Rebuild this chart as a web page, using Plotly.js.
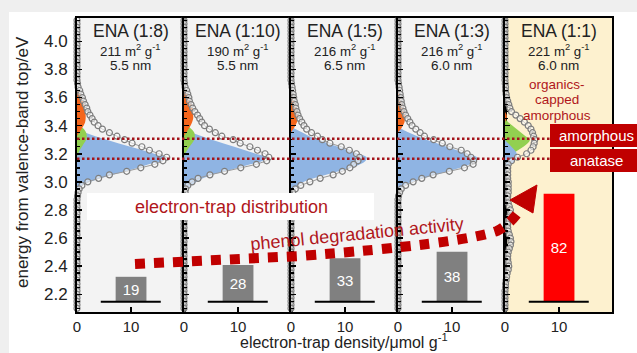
<!DOCTYPE html>
<html><head><meta charset="utf-8">
<script src="https://cdn.plot.ly/plotly-3.0.1.min.js"></script>
<style>html,body{margin:0;padding:0;background:#fff}#chart{width:637px;height:353px}</style>
</head><body><div id="chart"></div>
<script>
// ---------- data ----------
const samples = ['ENA (1:8)', 'ENA (1:10)', 'ENA (1:5)', 'ENA (1:3)', 'ENA (1:1)'];
const surfaceAreas = [211, 190, 216, 216, 221];
const crystalliteSizes = ['5.5', '5.5', '6.5', '6.0', '6.0'];
const phenolActivity = [19, 28, 33, 38, 82];
const xTickVals = [0, 10];
const xTickText = ['0', '10'];
const energyTickVals = [2.2, 2.4, 2.6, 2.8, 3.0, 3.2, 3.4, 3.6, 3.8, 4.0];
const energyTickText = ['2.2', '2.4', '2.6', '2.8', '3.0', '3.2', '3.4', '3.6', '3.8', '4.0'];
const amorphousLevel = 3.306;
const anataseLevel = 3.164;

const energy = [4.150,4.125,4.100,4.075,4.050,4.025,4.000,3.975,3.950,3.925,3.900,3.875,3.850,3.825,3.800,3.775,3.750,3.725,3.700,3.675,
  3.650,3.625,3.600,3.575,3.550,3.525,3.500,3.475,3.450,3.425,3.400,3.375,3.350,3.325,3.300,3.275,3.250,3.225,3.200,3.175,3.150,3.125,3.100,3.075,3.050,3.025,3.000,2.975,2.950,
  2.925,2.900,2.875,2.850,2.825,2.800,2.775,2.750,2.725,2.700,2.675,2.650,2.625,2.600,2.575,2.550,2.525,2.500,2.475,2.450,2.425,2.400,2.375,2.350,2.325,2.300,2.275,2.250,2.225,2.200,2.175,2.150,2.125,2.100];

const traps1 = [0,0,0,0,0,0,0,0,0,0, 0,0,0,0,0,0,0,0,0.1,0.2,
  0.5,0.7,1.0,1.2,1.5,1.8,2.0,2.4,2.8,3.2, 3.9,4.7,6.0,7.4,8.8,10.2,12.0,13.4,15.2,16.6, 15.9,14.4,11.8,9.2,6.0,4.0,2.0,0.9,0.4,
  0.2,0.1,0,0,0,0,0,0,0,0, 0,0,0,0,0,0,0,0,0,0, 0,0,0,0,0,0,0,0,0,0, 0,0,0,0];
const traps2 = [0,0,0,0,0,0,0,0,0,0, 0,0,0,0,0,0,0,0,0.1,0.2,
  0.5,0.7,0.9,1.0,1.3,1.6,2.0,2.5,2.9,3.3, 3.8,4.7,5.8,7.0,9.1,10.4,12.2,13.6,15.0,15.7, 15.3,13.4,10.5,7.5,4.8,2.6,1.5,0.7,0.3,
  0.2,0.1,0,0,0,0,0,0,0,0, 0,0,0,0,0,0,0,0,0,0, 0,0,0,0,0,0,0,0,0,0, 0,0,0,0];
const traps3 = [0,0,0,0,0,0,0,0,0,0, 0,0,0,0,0,0,0,0,0.1,0.2,
  0.3,0.4,0.5,0.6,0.8,0.9,1.1,1.3,1.6,2.0, 2.4,2.9,3.8,4.9,5.8,7.2,9.3,10.8,12.1,12.7, 12.4,11.6,10.9,9.5,7.8,5.4,3.5,1.8,0.8,
  0.3,0.1,0,0,0,0,0,0,0,0, 0,0,0,0,0,0,0,0,0,0, 0,0,0,0,0,0,0,0,0,0, 0,0,0,0];
const traps4 = [0,0,0,0,0,0,0,0,0,0, 0,0,0,0,0,0,0,0,0.1,0.2,
  0.3,0.4,0.5,0.6,0.7,0.9,1.1,1.4,1.8,2.2, 2.6,3.3,4.1,4.9,6.6,8.2,9.6,11.7,12.8,13.5, 14.0,13.9,12.3,9.5,6.5,4.4,2.8,1.4,0.6,
  0.3,0.1,0,0,0,0,0,0,0,0, 0,0,0,0,0,0,0,0,0,0, 0,0,0,0,0,0,0,0,0,0, 0,0,0,0];
const traps5 = [0,0,0,0,0,0,0,0,0,0, 0,0,0,0,0,0,0,0,0.05,0.1,
  0.1,0.2,0.3,0.5,0.7,0.9,1.2,2.0,2.8,3.6, 4.3,4.8,5.1,5.3,5.5,5.4,5.2,4.8,4.0,2.3, 1.2,0.6,0.5,0.5,0.5,0.5,0.6,0.6,0.6,
  0.6,0.5,0.5,0.6,0.8,1.0,1.0,0.8,0.6,0.5, 0.5,0.6,0.8,1.0,1.1,1.0,0.8,0.6,0.5,0.5, 0.6,0.7,0.6,0.4,0.3,0.2,0.1,0.1,0,0, 0,0,0,0];

// fitted components (energies 3.65 .. 2.95)
const fitEnergy = [3.650,3.625,3.600,3.575,3.550,3.525,3.500,3.475,3.450,3.425,3.400,3.375,3.350,3.325,3.300,3.275,3.250,3.225,3.200,3.175,3.150,3.125,3.100,3.075,3.050,3.025,3.000,2.975,2.950];
const fitBlue1 = [0,0,0,0,0,0,0,0,0,0, 0,0,1.6,3.4,5.5,7.6,9.9,12.2,14.3,16.6, 15.8,13.3,11.3,9.0,6.7,4.4,2.5,1.1,0.4];
const fitBlue2 = [0,0,0,0,0,0,0,0,0,0, 0,0,1.5,3.3,5.2,7.2,9.3,11.3,13.3,15.2, 14.6,12.3,10.0,7.7,5.3,3.5,2.3,1.3,0.5];
const fitBlue3 = [0,0,0,0,0,0,0,0,0,0, 0,0.9,2.2,3.4,5.2,6.8,8.7,10.5,12.4,14.0, 13.8,12.8,11.0,8.8,6.5,4.2,2.4,1.3,0.5];
const fitBlue4 = [0,0,0,0,0,0,0,0,0,0, 0,0.8,2.1,3.6,5.3,7.2,9.0,10.9,12.8,14.6, 14.5,13.3,11.5,9.3,7.1,4.8,2.6,1.2,0.5];
const fitBlue5 = [0,0,0,0,0,0,0,0,0,0, 0,0,0,0,0,0.6,1.2,1.8,2.2,2.2, 1.8,1.2,0.6,0.2,0,0,0,0,0];
const fitGreen1 = [0,0,0,0,0,0,0,0,0,0, 0.6,1.3,1.7,1.8,1.7,1.3,0.9,0.5,0.2,0, 0,0,0,0,0,0,0,0,0];
const fitGreen2 = [0,0,0,0,0,0,0,0,0,0, 0.7,1.4,1.9,2.0,1.9,1.5,1.0,0.6,0.2,0, 0,0,0,0,0,0,0,0,0];
const fitGreen3 = [0,0,0,0,0,0,0,0,0,0, 0,0,0,0,0,0,0,0,0,0, 0,0,0,0,0,0,0,0,0];
const fitGreen4 = [0,0,0,0,0,0,0,0,0,0, 0,0,0,0,0,0,0,0,0,0, 0,0,0,0,0,0,0,0,0];
const fitGreen5 = [0,0,0,0,0,0,0,0,0,0.6, 1.4,2.2,3.0,3.8,4.6,4.2,3.4,2.4,1.4,0.5, 0,0,0,0,0,0,0,0,0];
const fitOrange1 = [0.3,0.6,0.9,1.1,1.3,1.4,1.5,1.6,1.6,1.5, 1.2,0.8,0.4,0,0,0,0,0,0,0, 0,0,0,0,0,0,0,0,0];
const fitOrange2 = [0.2,0.5,0.9,1.2,1.4,1.6,1.7,1.7,1.7,1.5, 1.2,0.8,0.4,0,0,0,0,0,0,0, 0,0,0,0,0,0,0,0,0];
const fitOrange3 = [0,0,0.3,0.6,0.9,1.1,1.2,1.3,1.3,1.1, 0.8,0.4,0,0,0,0,0,0,0,0, 0,0,0,0,0,0,0,0,0];
const fitOrange4 = [0,0.2,0.4,0.6,0.9,1.1,1.2,1.3,1.3,1.2, 0.9,0.5,0,0,0,0,0,0,0,0, 0,0,0,0,0,0,0,0,0];
const fitOrange5 = [0,0,0,0,0,0,0,0.3,0.3,0, 0,0,0,0,0,0,0,0,0,0, 0,0,0,0,0,0,0,0,0];

const trapSeries = [traps1, traps2, traps3, traps4, traps5];
const blueSeries = [fitBlue1, fitBlue2, fitBlue3, fitBlue4, fitBlue5];
const greenSeries = [fitGreen1, fitGreen2, fitGreen3, fitGreen4, fitGreen5];
const orangeSeries = [fitOrange1, fitOrange2, fitOrange3, fitOrange4, fitOrange5];

// ---------- styling ----------
const FONT = 'Liberation Sans, Arial, sans-serif';
const RED = '#c00000';
const TXTRED = '#b0161b';
const C_BLUE = '#8fb4e3', C_GREEN = '#92d050', C_ORANGE = '#f4661c';
const ML = 77, MT = 18, PW = 535, PH = 294;
const px = x => (x - ML) / PW;
const py = y => (MT + PH - y) / PH;

const traces = [];
const layout = {
  width: 637, height: 353,
  margin: {l: ML, r: 637 - ML - PW, t: MT, b: 353 - MT - PH, pad: 0},
  paper_bgcolor: '#ffffff', plot_bgcolor: 'rgba(0,0,0,0)',
  showlegend: false,
  font: {family: FONT, color: '#222', size: 15},
  shapes: [], annotations: []
};

for (let i = 0; i < 5; i++) {
  const s = i === 0 ? '' : String(i + 1);
  const xa = 'x' + s, ya = 'y' + s, yb = 'y' + (6 + i);
  layout['xaxis' + s] = {
    domain: [i / 5, (i + 1) / 5], range: [0, 19.8], anchor: ya,
    tickmode: 'array', tickvals: xTickVals, ticktext: xTickText,
    ticks: 'inside', ticklen: 5, tickwidth: 1.5, tickcolor: '#000',
    showline: true, linecolor: '#000', linewidth: 2, mirror: true,
    showgrid: false, zeroline: false, tickfont: {size: 15, color: '#222'}, fixedrange: true
  };
  layout['yaxis' + s] = {
    domain: [0, 1], range: [2.074, 4.166], anchor: xa,
    tickmode: 'array', tickvals: energyTickVals, ticktext: energyTickText,
    showticklabels: i === 0, ticklabelstandoff: 4,
    ticks: 'inside', ticklen: 5, tickwidth: 1.5, tickcolor: '#000',
    minor: {tickmode: 'linear', tick0: 2.2, dtick: 0.05, ticks: 'inside', ticklen: 3, tickcolor: '#000'},
    showline: true, linecolor: '#000', linewidth: 2, mirror: true,
    showgrid: false, zeroline: false, tickfont: {size: 17, color: '#222'}, fixedrange: true
  };
  layout['yaxis' + (6 + i)] = {overlaying: ya, anchor: xa, range: [-7.7, 215.3], visible: false, fixedrange: true};

  const fillTrace = (vals, color) => ({
    type: 'scatter', mode: 'lines', x: vals, y: fitEnergy, xaxis: xa, yaxis: ya,
    fill: 'tozerox', fillcolor: color, line: {width: 0, shape: 'spline', color: color}, hoverinfo: 'skip'
  });
  const fills = i === 4
    ? [fillTrace(greenSeries[i], C_GREEN), fillTrace(blueSeries[i], C_BLUE), fillTrace(orangeSeries[i], C_ORANGE)]
    : [fillTrace(blueSeries[i], C_BLUE), fillTrace(greenSeries[i], C_GREEN), fillTrace(orangeSeries[i], C_ORANGE)];
  traces.push(...fills);
  traces.push({
    type: 'scatter', mode: 'lines+markers', x: trapSeries[i], y: energy, xaxis: xa, yaxis: ya,
    line: {color: '#9a9a9a', width: 1}, cliponaxis: false,
    marker: {symbol: 'circle', size: 6, color: 'rgba(255,255,255,0.55)', line: {color: '#7d7d7d', width: 1.2}},
    hoverinfo: 'skip'
  });
  traces.push({
    type: 'bar', x: [10], y: [phenolActivity[i]], xaxis: xa, yaxis: yb, width: 5.7,
    marker: {color: i === 4 ? '#ff0000' : '#808080', line: {width: 0}},
    text: [String(phenolActivity[i])], textposition: 'inside', insidetextanchor: 'middle',
    textfont: {color: '#ffffff', size: 15, family: FONT}, hoverinfo: 'skip'
  });
  // baseline under bar
  layout.shapes.push({type: 'line', xref: xa, yref: yb, x0: 4.4, x1: 15.5, y0: 0, y1: 0, line: {color: '#000', width: 2}});
  // panel background
  layout.shapes.push({type: 'rect', xref: 'paper', yref: 'paper', x0: i / 5, x1: (i + 1) / 5, y0: 0, y1: 1,
    fillcolor: i === 4 ? '#fdf1cf' : '#f3f3f3', line: {width: 0}, layer: 'below'});
  // panel titles
  const cx = (i + 0.5) / 5;
  layout.annotations.push({xref: 'paper', yref: 'paper', x: cx, y: py(31), text: samples[i], showarrow: false,
    xanchor: 'center', yanchor: 'middle', font: {size: 17.5, color: '#222'}});
  layout.annotations.push({xref: 'paper', yref: 'paper', x: cx, y: py(50), text: surfaceAreas[i] + ' m<sup>2</sup> g<sup>-1</sup>', showarrow: false,
    xanchor: 'center', yanchor: 'middle', font: {size: 13.3, color: '#222'}});
  layout.annotations.push({xref: 'paper', yref: 'paper', x: cx, y: py(66), text: crystalliteSizes[i] + ' nm', showarrow: false,
    xanchor: 'center', yanchor: 'middle', font: {size: 13.5, color: '#222'}});
}

// outer frame strips
layout.shapes.push({type: 'rect', xref: 'paper', yref: 'paper', x0: px(-5), x1: px(645), y0: py(-5), y1: py(12), fillcolor: '#efefef', line: {width: 0}, layer: 'below'});
layout.shapes.push({type: 'rect', xref: 'paper', yref: 'paper', x0: px(-5), x1: px(9), y0: py(360), y1: py(12), fillcolor: '#efefef', line: {width: 0}, layer: 'below'});

// reference levels
[amorphousLevel, anataseLevel].forEach(lv => layout.shapes.push({type: 'line', xref: 'paper', yref: 'y', x0: 0, x1: px(550), y0: lv, y1: lv,
  line: {color: '#a3141a', width: 2.5, dash: '2.5px,2.5px'}}));
// red label boxes
layout.shapes.push({type: 'rect', xref: 'paper', yref: 'paper', x0: px(550), x1: px(645), y0: py(147), y1: py(124), fillcolor: RED, line: {width: 0}});
layout.shapes.push({type: 'rect', xref: 'paper', yref: 'paper', x0: px(550), x1: px(645), y0: py(172), y1: py(149), fillcolor: RED, line: {width: 0}});
// white box for distribution label
layout.shapes.push({type: 'rect', xref: 'paper', yref: 'paper', x0: px(87), x1: px(374), y0: py(220), y1: py(193), fillcolor: '#ffffff', line: {width: 0}});
// dotted arrow
const P = (x, y) => px(x).toFixed(4) + ',' + py(y).toFixed(4);
layout.shapes.push({type: 'path', xref: 'paper', yref: 'paper',
  path: 'M' + P(135, 264) + ' L' + P(300, 256) + ' Q' + P(460, 244) + ' ' + P(497, 231) + ' Q' + P(512, 223) + ' ' + P(521, 208),
  line: {color: RED, width: 10, dash: '10px,9px'}});
layout.shapes.push({type: 'path', xref: 'paper', yref: 'paper',
  path: 'M' + P(510, 200) + ' L' + P(537, 185) + ' L' + P(533, 213) + ' Z', fillcolor: RED, line: {color: RED, width: 1}});

// texts
const ann = (x, y, text, opts) => layout.annotations.push(Object.assign({xref: 'paper', yref: 'paper', x: px(x), y: py(y), text: text,
  showarrow: false, xanchor: 'center', yanchor: 'middle'}, opts || {}));
ann(557, 84, 'organics-', {font: {size: 13.5, color: TXTRED}});
ann(557, 99.5, 'capped', {font: {size: 13.5, color: TXTRED}});
ann(557, 115, 'amorphous', {font: {size: 13.5, color: TXTRED}});
ann(596, 135.5, 'amorphous', {font: {size: 15, color: '#fff'}});
ann(596, 160.5, 'anatase', {font: {size: 15, color: '#fff'}});
ann(231, 207, 'electron-trap distribution', {font: {size: 18, color: TXTRED}});
ann(357, 234, 'phenol degradation activity', {font: {size: 18, color: TXTRED}, textangle: -5.5});
ann(344, 352, 'electron-trap density/μmol g<sup>-1</sup>', {font: {size: 16, color: '#222'}, yanchor: 'bottom', borderpad: 0});
ann(22, 162, 'energy from valence-band top/eV', {font: {size: 17, color: '#222'}, textangle: -90});

Plotly.newPlot('chart', traces, layout, {staticPlot: true, displayModeBar: false});
</script></body></html>
